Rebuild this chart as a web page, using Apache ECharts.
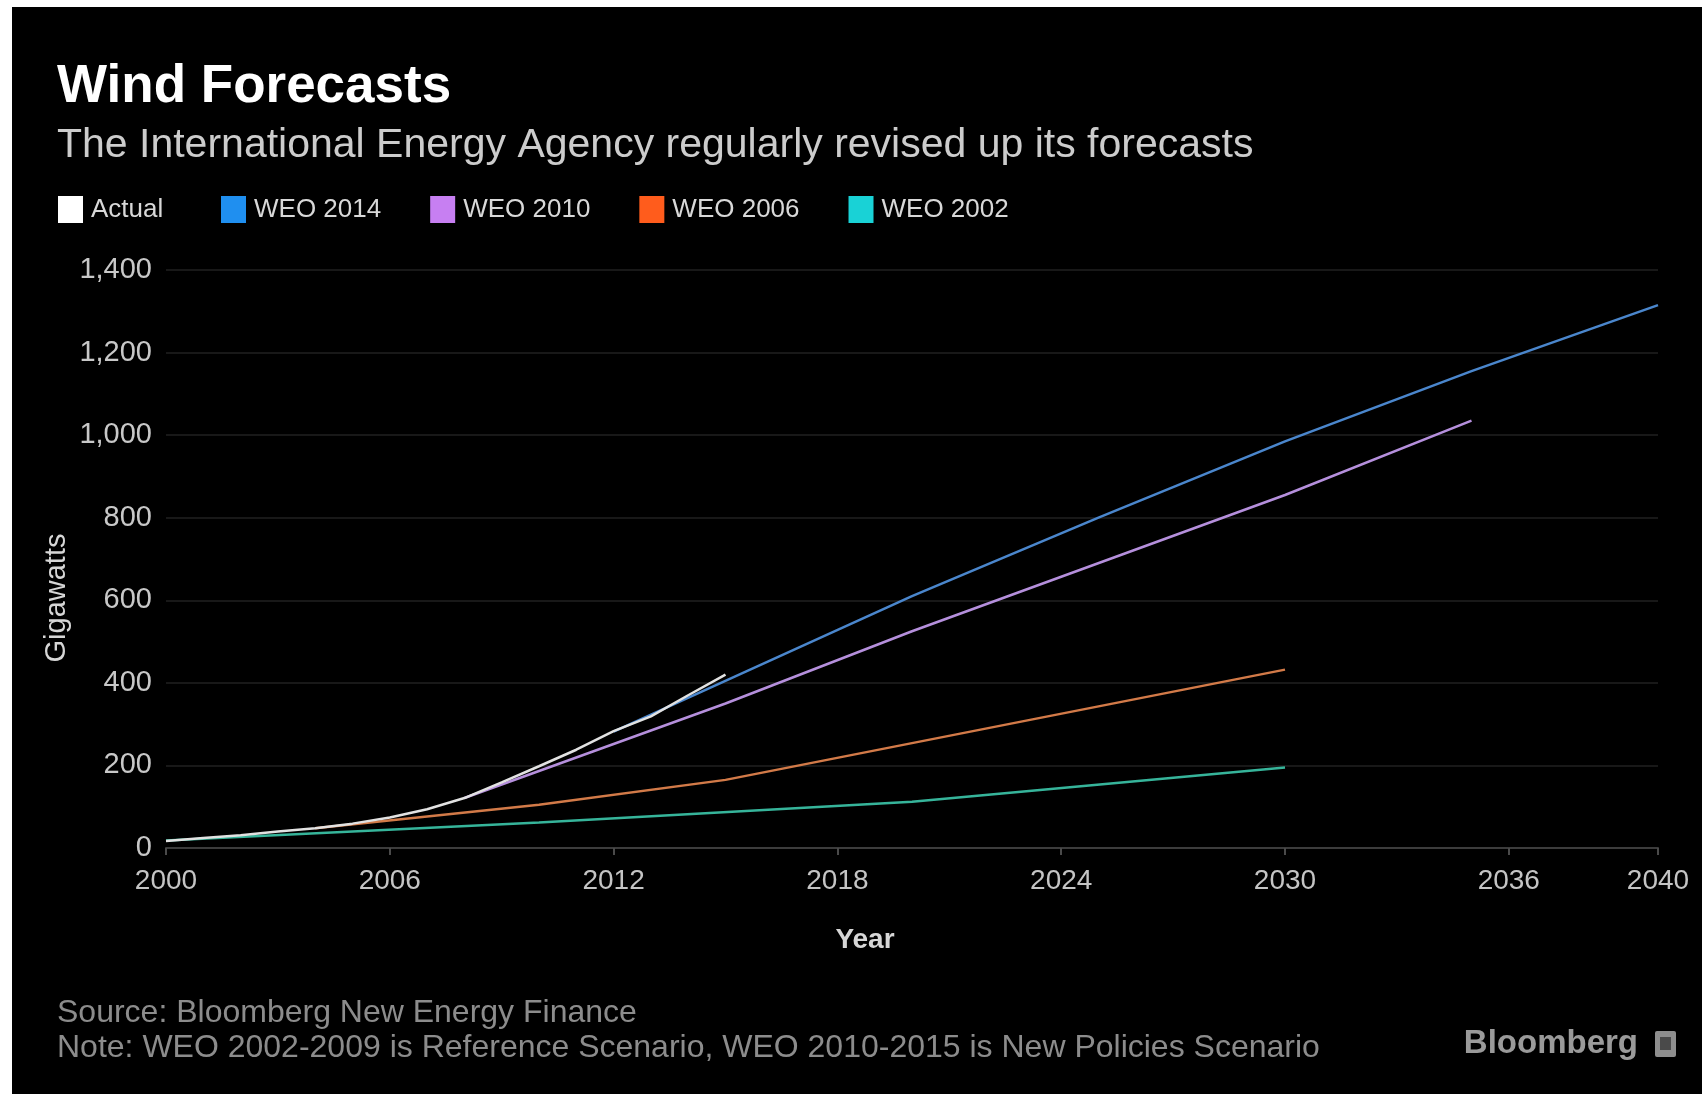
<!DOCTYPE html>
<html>
<head>
<meta charset="utf-8">
<title>Wind Forecasts</title>
<script src="https://cdn.jsdelivr.net/npm/echarts@6/dist/echarts.min.js"></script>
<style>
  html, body { margin: 0; padding: 0; background: #ffffff; width: 1707px; height: 1103px; overflow: hidden; }
  #panel { position: absolute; left: 12px; top: 7px; width: 1690px; height: 1087px; background: #000000; }
  #chart { position: absolute; left: 0; top: 0; width: 1707px; height: 1103px; }
</style>
</head>
<body>
<div id="panel"></div>
<div id="chart"></div>
<script>
// Installed wind capacity, gigawatts
const BASE_YEAR = 2000;

const actualYears = [2000, 2001, 2002, 2003, 2004, 2005, 2006, 2007, 2008, 2009, 2010, 2011, 2012, 2013, 2014, 2015];
const actualGW    = [17, 24, 31, 40, 48, 59, 74, 94, 121, 159, 198, 238, 283, 319, 370, 420];

const weo2014Years = [2012, 2020, 2025, 2030, 2035, 2040];
const weo2014GW    = [282, 610, 800, 985, 1155, 1315];

const weo2010Years = [2008, 2015, 2020, 2030, 2035];
const weo2010GW    = [121, 350, 525, 855, 1035];

const weo2006Years = [2004, 2010, 2015, 2030];
const weo2006GW    = [48, 105, 165, 432];

const weo2002Years = [2000, 2010, 2020, 2030];
const weo2002GW    = [18, 62, 112, 195];

const seriesNames  = ['Actual', 'WEO 2014', 'WEO 2010', 'WEO 2006', 'WEO 2002'];
const legendColors = ['#ffffff', '#1f8ff0', '#c77ff2', '#ff5c1c', '#19d2d6'];
const lineColors   = ['#e2e2e2', '#4a86cc', '#b58fdc', '#d27a48', '#36b49a'];

const FONT = "'Liberation Sans', Arial, sans-serif";

function pairs(years, values) {
  return years.map((y, i) => [y - BASE_YEAR, values[i]]);
}

const seriesData = [
  pairs(actualYears, actualGW),
  pairs(weo2014Years, weo2014GW),
  pairs(weo2010Years, weo2010GW),
  pairs(weo2006Years, weo2006GW),
  pairs(weo2002Years, weo2002GW)
];

// later series drawn first so the actual line sits on top
const series = seriesNames.map((name, i) => ({
  name: name,
  type: 'line',
  data: seriesData[i],
  showSymbol: false,
  smooth: false,
  z: 10 - i,
  lineStyle: { color: lineColors[i], width: 2.5 },
  itemStyle: { color: legendColors[i] },
  emphasis: { disabled: true }
}));

const legendData = seriesNames.map((n, i) => ({ name: n, itemStyle: { color: legendColors[i] } }));

// shared legend look; the actual entry and the forecast entries are laid out as two rows pieces
const legendBase = {
  top: 196,
  padding: 0,
  icon: 'rect',
  itemWidth: 25,
  itemHeight: 27,
  itemGap: 49,
  selectedMode: false,
  textStyle: { color: '#d8d8d8', fontSize: 26, fontFamily: FONT, padding: [0, 0, 0, 3] }
};

const chart = echarts.init(document.getElementById('chart'), null, { renderer: 'canvas' });

chart.setOption({
  animation: false,
  backgroundColor: 'transparent',
  textStyle: { fontFamily: FONT },
  grid: { left: 166, right: 49, top: 270, bottom: 255, containLabel: false },
  legend: [
    Object.assign({}, legendBase, { left: 58, data: legendData.slice(0, 1) }),
    Object.assign({}, legendBase, { left: 221, data: legendData.slice(1) })
  ],
  xAxis: {
    type: 'value',
    min: 0,
    max: 40,
    interval: 6,
    axisLine: { show: true, lineStyle: { color: '#3c3c3c', width: 2 } },
    axisTick: { show: true, length: 7, lineStyle: { color: '#4a4a4a', width: 2 } },
    splitLine: { show: false },
    axisLabel: {
      color: '#c4c4c4',
      fontSize: 28,
      margin: 19,
      fontFamily: FONT,
      formatter: v => String(BASE_YEAR + v)
    }
  },
  yAxis: {
    type: 'value',
    min: 0,
    max: 1400,
    interval: 200,
    axisLine: { show: false },
    axisTick: { show: false },
    splitLine: { show: true, lineStyle: { color: '#181818', width: 2 } },
    axisLabel: {
      color: '#c8c8c8',
      fontSize: 29,
      margin: 14,
      fontFamily: FONT,
      formatter: v => v.toLocaleString('en-US')
    }
  },
  graphic: [
    {
      type: 'text', left: 57, top: 61, silent: true,
      style: { text: 'Wind Forecasts', fill: '#ffffff', font: 'bold 53px ' + FONT }
    },
    {
      type: 'text', left: 57, top: 125, silent: true,
      style: { text: 'The International Energy Agency regularly revised up its forecasts', fill: '#cccccc', font: '41px ' + FONT }
    },
    {
      type: 'text', x: 57, y: 598, rotation: Math.PI / 2, silent: true,
      style: { text: 'Gigawatts', fill: '#d6d6d6', font: '29px ' + FONT, align: 'center', verticalAlign: 'middle' }
    },
    {
      type: 'text', x: 865, y: 940, silent: true,
      style: { text: 'Year', fill: '#d6d6d6', font: 'bold 28px ' + FONT, align: 'center', verticalAlign: 'middle' }
    },
    {
      type: 'text', x: 57, y: 1013, silent: true,
      style: { text: 'Source: Bloomberg New Energy Finance', fill: '#8c8c8c', font: '32px ' + FONT, verticalAlign: 'middle' }
    },
    {
      type: 'text', x: 57, y: 1048, silent: true,
      style: { text: 'Note: WEO 2002-2009 is Reference Scenario, WEO 2010-2015 is New Policies Scenario', fill: '#8c8c8c', font: '32px ' + FONT, verticalAlign: 'middle' }
    },
    {
      type: 'text', x: 1638, y: 1044, silent: true,
      style: { text: 'Bloomberg', fill: '#9a9a9a', font: 'bold 33px ' + FONT, align: 'right', verticalAlign: 'middle' }
    },
    {
      type: 'rect', x: 1655, y: 1031, silent: true,
      shape: { width: 21, height: 26, r: 2 },
      style: { fill: '#8e8e8e' }
    },
    {
      type: 'rect', x: 1660, y: 1037, silent: true,
      shape: { width: 11, height: 13 },
      style: { fill: '#4a4a4a' }
    }
  ],
  series: series
});
</script>
</body>
</html>
